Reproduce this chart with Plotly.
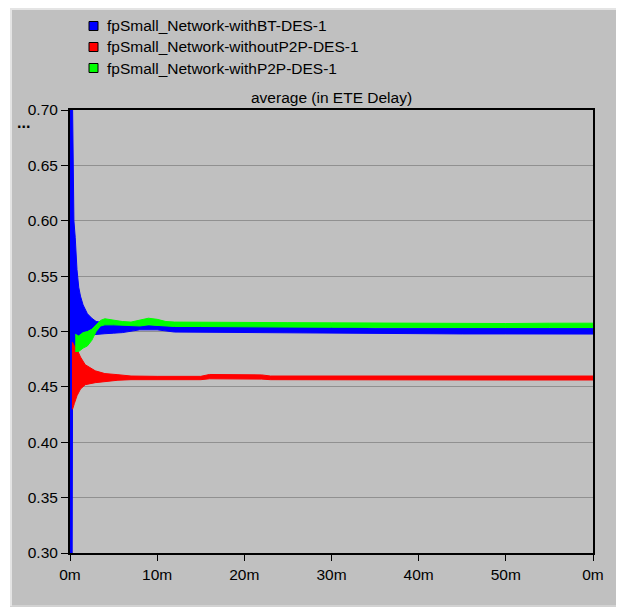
import plotly.graph_objects as go

# ---------------- data (minutes, average ETE delay in seconds) ----------------
series_names = ["fpSmall_Network-withBT-DES-1",
                "fpSmall_Network-withoutP2P-DES-1",
                "fpSmall_Network-withP2P-DES-1"]
series_colors = ["#0000FF", "#FF0000", "#00FF00"]

bt_t = [0, 0.25, 0.3, 0.45, 0.6, 0.8, 1.0, 1.2, 1.5, 2.0, 2.5, 3.0, 4, 5, 6, 8, 10, 12,
        15, 20, 25, 30, 35, 40, 45, 50, 55, 60]
bt_hi = [0.75, 0.75, 0.70, 0.60, 0.585, 0.556, 0.540, 0.532, 0.524, 0.516, 0.512, 0.509,
         0.508, 0.507, 0.506, 0.506, 0.505, 0.505, 0.5045, 0.5045, 0.5044, 0.504, 0.503,
         0.503, 0.503, 0.503, 0.5028, 0.5028]
bt_lo = [0.30, 0.30, 0.47, 0.48, 0.486, 0.490, 0.493, 0.494, 0.495, 0.496, 0.497, 0.4975,
         0.498, 0.4985, 0.499, 0.5015, 0.5015, 0.4995, 0.4993, 0.4993, 0.499, 0.4985,
         0.498, 0.498, 0.4978, 0.4978, 0.4977, 0.4977]

wo_t = [0.22, 0.3, 0.5, 0.8, 1.2, 1.75, 2.9, 4.0, 5.5, 7, 10, 15, 16, 20, 22, 23, 30,
        40, 50, 60]
wo_hi = [0.49, 0.49, 0.487, 0.484, 0.477, 0.470, 0.4645, 0.462, 0.461, 0.4598, 0.4595,
         0.4595, 0.4612, 0.4612, 0.4608, 0.4598, 0.4598, 0.4598, 0.4598, 0.4598]
wo_lo = [0.43, 0.43, 0.435, 0.442, 0.448, 0.452, 0.4538, 0.455, 0.456, 0.4565, 0.4565,
         0.4565, 0.4573, 0.4573, 0.457, 0.4565, 0.4563, 0.4562, 0.4562, 0.4562]

p2p_t = [0.6, 1.0, 1.5, 2.0, 2.5, 3.0, 3.5, 4, 5, 6, 7, 8, 9, 10, 11, 12, 15, 20, 25,
         30, 35, 40, 45, 50, 55, 60]
p2p_hi = [0.4975, 0.496, 0.499, 0.500, 0.502, 0.506, 0.510, 0.5115, 0.510, 0.509,
          0.5085, 0.510, 0.512, 0.511, 0.509, 0.5085, 0.5085, 0.508, 0.508, 0.5078,
          0.5075, 0.5075, 0.5072, 0.5072, 0.5075, 0.5075]
p2p_lo = [0.482, 0.482, 0.485, 0.487, 0.492, 0.500, 0.505, 0.506, 0.506, 0.5055,
          0.505, 0.505, 0.506, 0.5055, 0.505, 0.5045, 0.5045, 0.5045, 0.504, 0.5038,
          0.5036, 0.5036, 0.5036, 0.5036, 0.5036, 0.5036]

x_tickvals = [0, 10, 20, 30, 40, 50, 60]
x_ticktext = ["0m", "10m", "20m", "30m", "40m", "50m", "0m"]
y_tickvals = [0.30, 0.35, 0.40, 0.45, 0.50, 0.55, 0.60, 0.65, 0.70]
title_text = "average (in ETE Delay)"

# ---------------- geometry (figure coords; page has an 8px body margin) ----------------
W, H = 616, 599
L, R, T, B = 62, 585, 102, 545
def xp(px):
    return (px - L) / (R - L)
def yp(py):
    return (B - py) / (B - T)

FONT = "Arial, Liberation Sans, sans-serif"
FS = 15.5

fig = go.Figure()

def band(t, lo, hi, color):
    fig.add_trace(go.Scatter(x=t, y=lo, mode="lines", line=dict(color=color, width=1),
                             showlegend=False, hoverinfo="skip"))
    fig.add_trace(go.Scatter(x=t, y=hi, mode="lines", line=dict(color=color, width=1),
                             fill="tonexty", fillcolor=color, showlegend=False,
                             hoverinfo="skip"))

band(bt_t, bt_lo, bt_hi, series_colors[0])
band(wo_t, wo_lo, wo_hi, series_colors[1])
band(p2p_t, p2p_lo, p2p_hi, series_colors[2])

shapes = [
    dict(type="rect", xref="paper", yref="paper", x0=xp(2), x1=xp(W + 2),
         y0=yp(H + 2), y1=yp(0), fillcolor="#C0C0C0", line=dict(width=0), layer="below"),
    dict(type="line", xref="paper", yref="paper", x0=xp(3), x1=xp(3),
         y0=yp(H - 1), y1=yp(0), line=dict(color="#E4E4E4", width=2), layer="below"),
    dict(type="line", xref="paper", yref="paper", x0=xp(2), x1=xp(W),
         y0=yp(1), y1=yp(1), line=dict(color="#E4E4E4", width=2), layer="below"),
    dict(type="line", xref="paper", yref="paper", x0=xp(2), x1=xp(W),
         y0=yp(H - 1), y1=yp(H - 1), line=dict(color="#E4E4E4", width=1), layer="below"),
]

annotations = [
    dict(text=title_text, xref="paper", yref="paper", x=0.5, y=yp(90), xanchor="center",
         yanchor="middle", showarrow=False, font=dict(family=FONT, size=FS, color="black")),
    dict(text="<b>...</b>", xref="paper", yref="paper", x=xp(15), y=yp(114),
         xanchor="center", yanchor="middle", showarrow=False,
         font=dict(family=FONT, size=16, color="black")),
]

legend_rows = [18, 39, 60]
for name, color, row in zip(series_names, series_colors, legend_rows):
    shapes.append(dict(type="rect", xref="paper", yref="paper", x0=xp(81), x1=xp(90),
                       y0=yp(row + 4.5), y1=yp(row - 4.5), fillcolor=color,
                       line=dict(color="black", width=1)))
    annotations.append(dict(text=name, xref="paper", yref="paper", x=xp(97), y=yp(row),
                            xanchor="left", yanchor="middle", showarrow=False,
                            font=dict(family=FONT, size=FS, color="black")))

fig.update_layout(
    width=W, height=H,
    margin=dict(l=L, r=W - R, t=T, b=H - B, pad=0),
    paper_bgcolor="white",
    plot_bgcolor="#F0F0F0",
    showlegend=False,
    shapes=shapes,
    annotations=annotations,
    xaxis=dict(range=[0, 60], tickvals=x_tickvals, ticktext=x_ticktext,
               showgrid=False, zeroline=False, showline=True, linecolor="black",
               linewidth=2, mirror=True, ticks="outside", ticklen=6, tickcolor="black",
               tickfont=dict(family=FONT, size=FS, color="black")),
    yaxis=dict(range=[0.30, 0.70], tickvals=y_tickvals, tickformat=".2f",
               showgrid=True, gridcolor="#909090", gridwidth=1, zeroline=False,
               showline=True, linecolor="black", linewidth=2, mirror=True,
               ticks="outside", ticklen=7, tickcolor="black",
               tickfont=dict(family=FONT, size=FS, color="black")),
)

fig.write_html("out.html")
